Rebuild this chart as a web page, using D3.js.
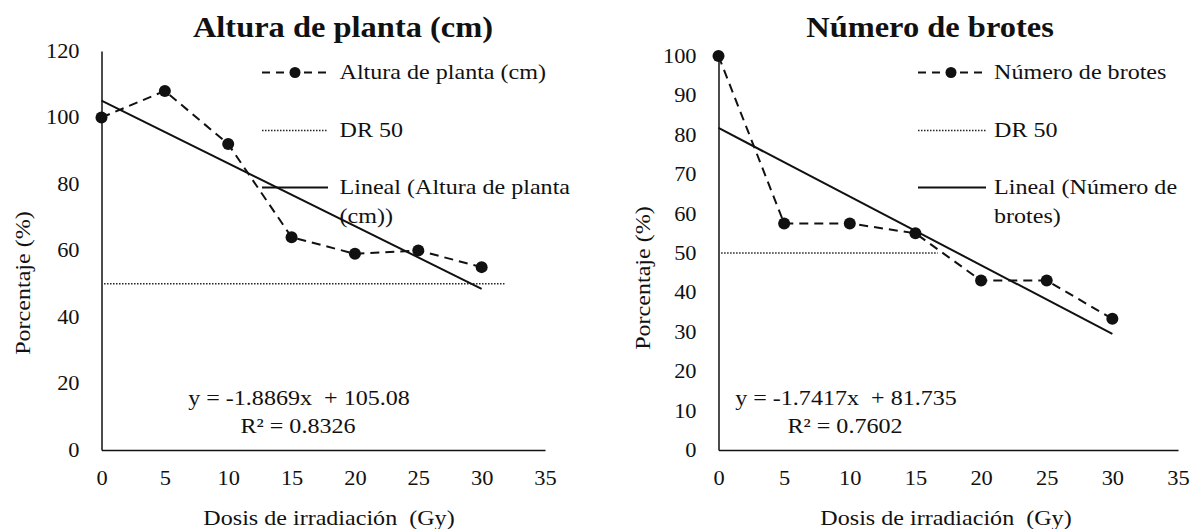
<!DOCTYPE html>
<html>
<head>
<meta charset="utf-8">
<script src="https://cdn.jsdelivr.net/npm/d3@7"></script>
<style>
  body { margin: 0; background: #fff; }
  svg text { font-family: "Liberation Serif", "DejaVu Serif", "Noto Serif", serif; fill: #111; white-space: pre; }
</style>
</head>
<body>
<div id="container"></div>
<script>
/* DATA */
const doses = [0, 5, 10, 15, 20, 25, 30];
const xTicks = [0, 5, 10, 15, 20, 25, 30, 35];

// Altura de planta (cm)
const alturaValues = [100, 108, 92, 64, 59, 60, 55];
const alturaYTicks = [0, 20, 40, 60, 80, 100, 120];
const alturaFit = [-1.8869, 105.08];      // slope, intercept
const alturaEquation = ["y = -1.8869x  + 105.08", "R² = 0.8326"];
const alturaDR50 = [0.2, 31.8];           // x extent of DR 50 line
const alturaLegend = ["Altura de planta (cm)", "DR 50", "Lineal (Altura de planta", "(cm))"];

// Número de brotes
const brotesValues = [100, 57.5, 57.5, 55, 43, 43, 33.3];
const brotesYTicks = [0, 10, 20, 30, 40, 50, 60, 70, 80, 90, 100];
const brotesFit = [-1.7417, 81.735];
const brotesEquation = ["y = -1.7417x  + 81.735", "R² = 0.7602"];
const brotesDR50 = [0.2, 16.7];
const brotesLegend = ["Número de brotes", "DR 50", "Lineal (Número de", "brotes)"];

const dr50Level = 50;

/* CONSTANTS */
const width = 1198, height = 529
const SX = 1.12   // the picture's text is a bit wider than normal
const FONT = '"Liberation Serif", "DejaVu Serif", "Noto Serif", serif'

const svg = d3.select("#container")
  .append("svg")
  .attr("width", width)
  .attr("height", height)

// stretched text helper
function label(g, x, y, txt, size, opts = {}) {
  const rot = opts.rotate ? ` rotate(${opts.rotate})` : ""
  return g.append("text")
    .attr("transform", `translate(${x},${y})${rot} scale(${SX},1)`)
    .attr("text-anchor", opts.anchor || "middle")
    .attr("dy", opts.dy || "0.32em")
    .attr("font-size", size)
    .attr("font-weight", opts.bold ? "bold" : "normal")
    .text(txt)
}

function drawPanel(p) {
  const g = svg.append("g")

  // SCALES
  const xScale = d3.scaleLinear().domain([0, 35]).range([p.x0, p.x1])
  const yScale = d3.scaleLinear().domain([0, p.yMax]).range([450, p.yTop])

  // AXES
  const xAxis = d3.axisBottom(xScale).tickValues(xTicks).tickSize(0).tickPadding(21)
  const yAxis = d3.axisLeft(yScale).tickValues(p.yTicks).tickSize(0)

  const gx = g.append("g")
    .attr("transform", `translate(0, ${yScale(0)})`)
    .call(xAxis)
  const gy = g.append("g")
    .attr("transform", `translate(${p.x0}, 0)`)
    .call(yAxis)

  ;[gx, gy].forEach(a => {
    a.attr("font-family", FONT)
    a.select(".domain").attr("stroke", "#111").attr("stroke-width", 1.5)
    a.selectAll("text")
      .attr("font-size", 20)
      .attr("fill", "#111")
      .attr("transform", `scale(${SX},1)`)
  })
  gy.selectAll("text").attr("x", -22 / SX)

  // DR 50 line
  g.append("line")
    .attr("x1", xScale(p.dr50[0]))
    .attr("x2", xScale(p.dr50[1]))
    .attr("y1", yScale(dr50Level))
    .attr("y2", yScale(dr50Level))
    .attr("stroke", "#222")
    .attr("stroke-width", 1.5)
    .attr("stroke-dasharray", "1.5,1.5")

  // SERIES
  const data = doses.map((d, i) => ({ dose: d, value: p.values[i] }))
  const lineGen = d3.line()
    .x(d => xScale(d.dose))
    .y(d => yScale(d.value))

  g.append("path")
    .attr("fill", "none")
    .attr("stroke", "#111")
    .attr("stroke-width", 2)
    .attr("stroke-dasharray", "9,6")
    .attr("d", lineGen(data))

  g.selectAll(".dot")
    .data(data)
    .join("circle")
    .attr("class", "dot")
    .attr("cx", d => xScale(d.dose))
    .attr("cy", d => yScale(d.value))
    .attr("r", 6)
    .attr("fill", "#111")

  // TREND LINE (from the printed equation)
  const trend = [0, 30].map(x => ({ dose: x, value: p.fit[1] + p.fit[0] * x }))
  g.append("path")
    .attr("fill", "none")
    .attr("stroke", "#111")
    .attr("stroke-width", 2)
    .attr("d", lineGen(trend))

  // LEGEND
  const rows = [72.5, 130.5, 187.5]
  const lg = g.append("g")
  lg.append("line")
    .attr("x1", p.lx0).attr("x2", p.lx0 + 64).attr("y1", rows[0]).attr("y2", rows[0])
    .attr("stroke", "#111").attr("stroke-width", 2).attr("stroke-dasharray", "8,6")
  lg.append("circle")
    .attr("cx", p.lx0 + 33).attr("cy", rows[0]).attr("r", 5.5)
    .attr("fill", "#111")
  lg.append("line")
    .attr("x1", p.lx0).attr("x2", p.lx1).attr("y1", rows[1]).attr("y2", rows[1])
    .attr("stroke", "#222").attr("stroke-width", 1.5).attr("stroke-dasharray", "1.5,1.5")
  lg.append("line")
    .attr("x1", p.lx0).attr("x2", p.lx1).attr("y1", rows[2]).attr("y2", rows[2])
    .attr("stroke", "#111").attr("stroke-width", 2)

  label(lg, p.tx, rows[0], p.legend[0], 21.5, { anchor: "start" })
  label(lg, p.tx, rows[1], p.legend[1], 21.5, { anchor: "start" })
  label(lg, p.tx, rows[2], p.legend[2], 21.5, { anchor: "start" })
  label(lg, p.tx, rows[2] + 28.5, p.legend[3], 21.5, { anchor: "start" })

  // EQUATION
  label(g, p.eqX, 398.5, p.equation[0], 21.5)
  label(g, p.eqX - 1, 426.5, p.equation[1], 21.5)

  // TITLES
  label(g, p.titleX, 37, p.title, 29, { bold: true, dy: "0" })
  label(g, p.xTitleX, 518.5, "Dosis de irradiación  (Gy)", 21.5)
  label(g, p.yTitleX, p.yTitleY, "Porcentaje (%)", 21.5, { rotate: -90 })
}

drawPanel({
  title: "Altura de planta (cm)", values: alturaValues, yTicks: alturaYTicks, yMax: 120,
  fit: alturaFit, equation: alturaEquation, dr50: alturaDR50, legend: alturaLegend,
  x0: 101.5, x1: 545, yTop: 51,
  lx0: 262, lx1: 328, tx: 339.5,
  eqX: 299, titleX: 343, xTitleX: 329, yTitleX: 23, yTitleY: 283
})

drawPanel({
  title: "Número de brotes", values: brotesValues, yTicks: brotesYTicks, yMax: 100,
  fit: brotesFit, equation: brotesEquation, dr50: brotesDR50, legend: brotesLegend,
  x0: 718.5, x1: 1178, yTop: 56,
  lx0: 918, lx1: 986, tx: 994,
  eqX: 846, titleX: 930, xTitleX: 946, yTitleX: 643, yTitleY: 278
})
</script>
</body>
</html>
